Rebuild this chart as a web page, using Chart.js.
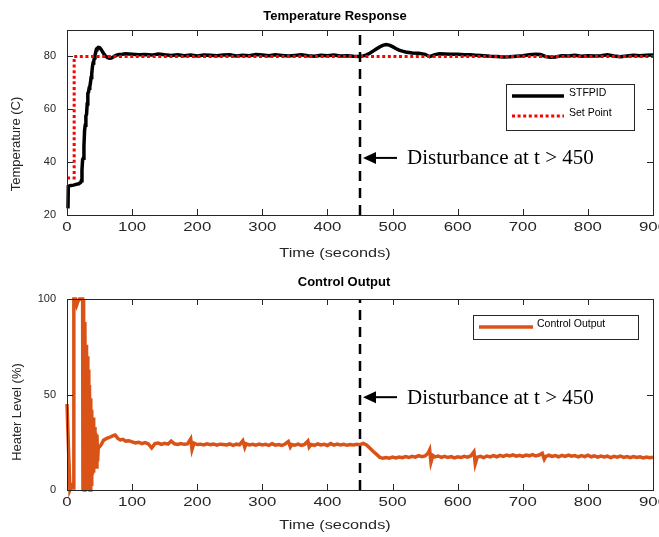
<!DOCTYPE html>
<html>
<head>
<meta charset="utf-8">
<script src="https://cdn.jsdelivr.net/npm/chart.js@4.4.1/dist/chart.umd.min.js"></script>
<style>
  html, body { margin: 0; padding: 0; background: #fff; overflow: hidden; }
  #wrap { position: relative; width: 659px; height: 537px; overflow: hidden; }
  canvas { position: absolute; left: 0; }
  #temp-chart { top: 0; }
  #heat-chart { top: 268px; }
</style>
</head>
<body>
<div id="wrap">
  <canvas id="temp-chart" width="663" height="268"></canvas>
  <canvas id="heat-chart" width="663" height="269"></canvas>
</div>
<script>
const xTicks = [0, 100, 200, 300, 400, 500, 600, 700, 800, 900];
const tempTicks = [20, 40, 60, 80];
const heatTicks = [0, 50, 100];
const tempRange = [20, 90];
const heatRange = [0, 100];

const tempTime = [
  1.5, 2, 4, 6, 10, 14, 18, 21, 22, 23, 24, 25, 26, 27, 28, 29, 30, 31, 32, 33,
  34, 35, 36, 37, 38, 39, 40, 41, 42, 43, 44, 45, 46, 48, 50, 52, 54, 56, 58, 60,
  62, 65, 68, 71, 75, 80, 85, 90, 95, 100, 110, 120, 130, 140, 150, 160, 170, 180, 190, 200,
  210, 220, 230, 240, 250, 260, 270, 280, 290, 300, 310, 320, 330, 340, 350, 360, 370, 380, 390, 400,
  410, 420, 430, 440, 450, 455, 460, 465, 470, 475, 480, 485, 490, 495, 500, 505, 510, 515, 520, 525,
  530, 540, 550, 557, 565, 572, 580, 590, 600, 610, 620, 630, 640, 650, 660, 670, 680, 690, 700, 710,
  720, 727, 735, 742, 750, 760, 770, 780, 790, 800, 810, 820, 830, 840, 850, 860, 870, 880, 890, 900
];
const tempValue = [
  22.5, 30.8, 31.0, 31.2, 31.3, 31.6, 31.8, 32.3, 33.0, 37.0, 41.0, 41.5, 46.0, 52.0, 54.0, 57.5, 58.0, 62.0, 66.0, 66.5,
  68.0, 68.5, 70.0, 72.0, 73.5, 76.0, 77.5, 78.0, 79.5, 80.5, 81.5, 82.5, 83.0, 83.4, 83.3, 82.8, 82.0, 81.2, 80.5, 80.0,
  79.6, 79.3, 79.4, 79.8, 80.4, 80.7, 80.8, 81.0, 80.9, 80.8, 80.6, 80.7, 80.5, 80.9, 80.6, 80.4, 80.6, 80.3, 80.5, 80.2,
  80.5, 80.4, 80.3, 80.5, 80.6, 80.2, 80.4, 80.3, 80.7, 80.5, 80.3, 80.6, 80.4, 80.2, 80.4, 80.6, 80.3, 80.1, 80.4, 80.3,
  80.5, 80.2, 80.3, 80.1, 80.0, 80.2, 80.6, 81.2, 82.0, 82.8, 83.6, 84.2, 84.5, 84.3, 83.7, 83.0, 82.4, 82.0, 81.7, 81.5,
  81.3, 81.2, 80.8, 79.9, 80.7, 81.0, 80.9, 80.8, 80.8, 80.6, 80.6, 80.4, 80.3, 80.1, 80.0, 79.8, 79.9, 80.1, 80.3, 80.6,
  80.8, 80.7, 80.0, 79.7, 79.8, 80.3, 80.2, 80.4, 80.1, 80.3, 80.2, 80.3, 80.6, 80.2, 79.9, 80.2, 80.4, 80.3, 80.4, 80.5
];

const setTime = [0, 11, 11, 900];
const setValue = [34, 34, 80, 80];

const heatTime = [
  0, 1, 4.5, 7, 9, 10, 10.5, 13, 15, 17, 19, 22, 24, 24.5, 25.5, 26.5, 27.5, 28.5, 29.2, 30,
  31, 32, 32.7, 33.5, 34.5, 35.5, 36.5, 37.3, 38, 39, 40, 41, 42, 43, 44, 45, 46, 47, 48, 50,
  53, 56, 61, 65, 70, 74, 78, 82, 86, 90, 95, 100, 105, 110, 115, 120, 125, 130, 135, 140,
  145, 150, 155, 160, 165, 170, 175, 180, 185, 190, 192, 195, 200, 205, 210, 215, 220, 225, 230, 235,
  240, 245, 250, 255, 260, 265, 270, 273, 275, 280, 285, 290, 295, 300, 305, 310, 315, 320, 325, 330,
  335, 340, 343, 345, 350, 355, 360, 365, 370, 372, 375, 380, 385, 390, 395, 400, 405, 410, 415, 420,
  425, 430, 435, 440, 445, 450, 455, 460, 465, 470, 475, 480, 485, 490, 495, 500, 505, 510, 515, 520,
  525, 530, 535, 540, 545, 550, 555, 557, 559, 562, 565, 570, 575, 580, 585, 590, 595, 600, 605, 610,
  615, 620, 625, 627, 630, 635, 640, 645, 650, 655, 660, 665, 670, 675, 680, 685, 690, 695, 700, 705,
  710, 715, 720, 725, 730, 733, 735, 740, 745, 750, 755, 760, 765, 770, 775, 780, 785, 790, 795, 800,
  805, 810, 815, 820, 825, 830, 835, 840, 845, 850, 855, 860, 865, 870, 875, 880, 885, 890, 895, 900
];
const heatValue = [
  45, 45, 0, 2, 3, 1, 100, 100, 97, 99, 100, 100, 100, 0, 100, 0, 88, 0, 76, 0,
  70, 0, 63, 2, 55, 0, 48, 3, 42, 8, 38, 9, 33, 13, 30, 12, 29, 15, 22, 22.6,
  24, 26, 27, 27.5, 28.3, 28.8, 27, 26.2, 26.5, 25.6, 25.8, 25.2, 24.6, 25.0, 24.3, 24.8, 24.1, 22.0, 24.3, 24.6,
  23.9, 24.4, 24.0, 25.6, 24.2, 23.8, 24.3, 23.9, 24.1, 26.8, 21.2, 24.5, 23.8, 24.0, 23.6, 24.2, 23.7, 24.1, 23.5, 24.0,
  23.8, 23.6, 24.1, 23.4, 24.0, 23.7, 25.8, 22.4, 24.2, 23.6, 23.9, 23.5, 24.0, 23.6, 23.9, 23.4, 24.2, 23.5, 23.8, 23.3,
  24.1, 25.4, 22.6, 23.8, 23.5, 24.0, 23.4, 23.9, 25.6, 22.5, 23.8, 23.4, 24.1, 23.6, 23.9, 23.3, 24.3, 23.5, 24.0, 23.6,
  23.9, 23.4, 23.8, 23.6, 23.9, 23.7, 24.4, 23.6, 22.0, 20.3, 18.8, 17.2, 16.6, 17.0, 16.7, 17.2, 16.8, 17.3, 16.9, 17.5,
  17.0, 17.6, 17.2, 18.0, 17.4, 17.8, 19.5, 21.0, 14.5, 18.0, 17.3, 17.8, 17.1, 17.6, 17.0, 17.5, 16.8, 17.4, 17.0, 17.6,
  17.2, 17.8, 20.0, 13.8, 17.2, 17.6, 17.0, 17.8, 17.3, 18.0, 17.4, 18.1, 17.6, 18.3, 17.8, 18.4, 17.7, 18.2, 17.6, 18.3,
  17.9, 18.5, 17.8, 18.3, 19.2, 16.2, 17.5, 18.2, 17.6, 18.0, 17.4, 18.1, 17.6, 18.3, 17.7, 18.0, 17.3, 18.0, 17.5, 18.2,
  17.4, 17.9, 17.2, 17.8, 17.3, 17.7, 17.0, 17.6, 17.2, 17.8, 17.1, 17.5, 16.9, 17.5, 17.0, 17.4, 16.8, 17.3, 16.9, 17.1
];

const disturbanceTime = [450, 450];
const disturbanceText = 'Disturbance at t > 450';

const axisColor = '#262626';
const sansFont = '"Liberation Sans", Arial, sans-serif';

function points(times, values) {
    return times.map((t, i) => ({ x: t, y: values[i] }));
}

function stretchedText(ctx, text, x, y, sx, align) {
    ctx.save();
    ctx.translate(x, y);
    ctx.scale(sx, 1);
    ctx.textAlign = align || 'center';
    ctx.fillText(text, 0, 0);
    ctx.restore();
}

// draws the matlab style box, inner ticks, texts, arrow and legend
const matlabAxes = {
    id: 'matlabAxes',
    afterDatasetsDraw(chart, args, opts) {
        const ctx = chart.ctx;
        const area = chart.chartArea;
        const xs = chart.scales.x;
        const ys = chart.scales.y;
        ctx.save();

        // dashed disturbance arrow and label
        const tip = xs.getPixelForValue(disturbanceTime[0]) + 3;
        const ay = ys.getPixelForValue(opts.arrowValue);
        ctx.strokeStyle = '#000';
        ctx.fillStyle = '#000';
        ctx.lineWidth = 2;
        ctx.setLineDash([]);
        ctx.beginPath();
        ctx.moveTo(tip + 10, ay);
        ctx.lineTo(tip + 34, ay);
        ctx.stroke();
        ctx.beginPath();
        ctx.moveTo(tip, ay);
        ctx.lineTo(tip + 13, ay - 6);
        ctx.lineTo(tip + 13, ay + 6);
        ctx.closePath();
        ctx.fill();
        ctx.font = '21px "Liberation Serif", "Times New Roman", serif';
        ctx.textBaseline = 'middle';
        ctx.textAlign = 'left';
        ctx.fillText(disturbanceText, tip + 44, ay + 1);

        // frame and inner ticks
        ctx.strokeStyle = axisColor;
        ctx.lineWidth = 1;
        ctx.strokeRect(area.left + 0.5, area.top + 0.5, area.right - area.left, area.bottom - area.top);
        ctx.beginPath();
        xs.ticks.forEach(t => {
            const px = Math.round(xs.getPixelForValue(t.value)) + 0.5;
            ctx.moveTo(px, area.bottom);
            ctx.lineTo(px, area.bottom - 6);
            ctx.moveTo(px, area.top);
            ctx.lineTo(px, area.top + 6);
        });
        ys.ticks.forEach(t => {
            const py = Math.round(ys.getPixelForValue(t.value)) + 0.5;
            ctx.moveTo(area.left, py);
            ctx.lineTo(area.left + 6, py);
            ctx.moveTo(area.right, py);
            ctx.lineTo(area.right - 6, py);
        });
        ctx.stroke();

        // x tick labels, axis titles, title
        ctx.fillStyle = axisColor;
        ctx.textBaseline = 'middle';
        ctx.font = '12px ' + sansFont;
        xs.ticks.forEach(t => {
            stretchedText(ctx, String(t.value), xs.getPixelForValue(t.value), area.bottom + 13, 1.4);
        });
        ctx.font = '13px ' + sansFont;
        stretchedText(ctx, opts.xTitle, opts.xTitleX, opts.xTitleY, 1.25);
        ctx.save();
        ctx.translate(opts.yTitleX, opts.yTitleY);
        ctx.rotate(-Math.PI / 2);
        ctx.textAlign = 'center';
        ctx.fillText(opts.yTitle, 0, 0);
        ctx.restore();
        ctx.fillStyle = '#000';
        ctx.font = 'bold 13px ' + sansFont;
        stretchedText(ctx, opts.title, opts.titleX, opts.titleY, 1);

        // legend
        const lg = opts.legend;
        ctx.fillStyle = '#fff';
        ctx.fillRect(lg.x, lg.y, lg.w, lg.h);
        ctx.strokeStyle = axisColor;
        ctx.lineWidth = 1;
        ctx.strokeRect(lg.x + 0.5, lg.y + 0.5, lg.w, lg.h);
        ctx.font = lg.font + 'px ' + sansFont;
        ctx.textAlign = 'left';
        chart.data.datasets.filter(ds => ds.label).forEach((ds, i) => {
            const ry = lg.rowY + i * lg.rowGap;
            ctx.strokeStyle = ds.borderColor;
            ctx.lineWidth = ds.borderWidth;
            ctx.setLineDash(ds.borderDash || []);
            ctx.beginPath();
            ctx.moveTo(lg.lineX0, ry + lg.lineOffset);
            ctx.lineTo(lg.lineX1, ry + lg.lineOffset);
            ctx.stroke();
            ctx.setLineDash([]);
            ctx.fillStyle = '#000';
            ctx.fillText(ds.label, lg.textX, ry);
        });
        ctx.restore();
    }
};

function scales(range, yTicks, xHeight) {
    return {
        x: {
            type: 'linear',
            min: 0,
            max: 900,
            afterBuildTicks: s => { s.ticks = xTicks.map(v => ({ value: v })); },
            afterFit: s => { s.height = xHeight; },
            ticks: { display: false },
            grid: { display: false, drawTicks: false },
            border: { display: false }
        },
        y: {
            type: 'linear',
            min: range[0],
            max: range[1],
            afterBuildTicks: s => { s.ticks = yTicks.map(v => ({ value: v })); },
            afterFit: s => { s.width = 67; },
            ticks: { color: axisColor, padding: 11, font: { size: 11, family: sansFont } },
            grid: { display: false, drawTicks: false },
            border: { display: false }
        }
    };
}

function main() {
    const tempCanvas = document.querySelector('#temp-chart');
    const heatCanvas = document.querySelector('#heat-chart');

    new Chart(tempCanvas.getContext('2d'), {
        type: 'line',
        data: {
            datasets: [
                {
                    label: 'STFPID',
                    data: points(tempTime, tempValue),
                    borderColor: '#000000',
                    borderWidth: 3.5,
                    order: 2
                },
                {
                    label: 'Set Point',
                    data: points(setTime, setValue),
                    borderColor: '#ff0000',
                    borderWidth: 3,
                    borderDash: [3, 2.6],
                    order: 1
                },
                {
                    label: '',
                    data: points(disturbanceTime, tempRange),
                    borderColor: '#000000',
                    borderWidth: 2.5,
                    borderDash: [10, 7],
                    order: 0
                }
            ]
        },
        options: {
            responsive: false,
            animation: false,
            clip: false,
            elements: { point: { radius: 0 }, line: { tension: 0, fill: false, borderCapStyle: 'butt' } },
            layout: { padding: { top: 30, right: 10, left: 0, bottom: 0 } },
            scales: scales(tempRange, tempTicks, 53),
            plugins: {
                legend: { display: false },
                tooltip: { enabled: false },
                matlabAxes: {
                    title: 'Temperature Response', titleX: 335, titleY: 16,
                    xTitle: 'Time (seconds)', xTitleX: 335, xTitleY: 253,
                    yTitle: 'Temperature (C)', yTitleX: 16, yTitleY: 144,
                    arrowValue: 41.6,
                    legend: { x: 506, y: 84, w: 128, h: 46, rowY: 93, rowGap: 20, lineOffset: 3,
                              lineX0: 512, lineX1: 564, textX: 569, font: 10.5 }
                }
            }
        },
        plugins: [matlabAxes]
    });

    new Chart(heatCanvas.getContext('2d'), {
        type: 'line',
        data: {
            datasets: [
                {
                    label: 'Control Output',
                    data: points(heatTime, heatValue),
                    borderColor: '#D95319',
                    borderWidth: 3.5,
                    order: 1
                },
                {
                    label: '',
                    data: points(disturbanceTime, heatRange),
                    borderColor: '#000000',
                    borderWidth: 2.5,
                    borderDash: [10, 7],
                    order: 0
                }
            ]
        },
        options: {
            responsive: false,
            animation: false,
            clip: false,
            elements: { point: { radius: 0 }, line: { tension: 0, fill: false, borderCapStyle: 'butt' } },
            layout: { padding: { top: 31, right: 10, left: 0, bottom: 0 } },
            scales: scales(heatRange, heatTicks, 47),
            plugins: {
                legend: { display: false },
                tooltip: { enabled: false },
                matlabAxes: {
                    title: 'Control Output', titleX: 344, titleY: 14,
                    xTitle: 'Time (seconds)', xTitleX: 335, xTitleY: 257,
                    yTitle: 'Heater Level (%)', yTitleX: 17, yTitleY: 144,
                    arrowValue: 48.6,
                    legend: { x: 473, y: 47, w: 165, h: 24, rowY: 56, rowGap: 20, lineOffset: 3,
                              lineX0: 479, lineX1: 533, textX: 537, font: 10.5 }
                }
            }
        },
        plugins: [matlabAxes]
    });
}

main()
</script>
</body>
</html>
